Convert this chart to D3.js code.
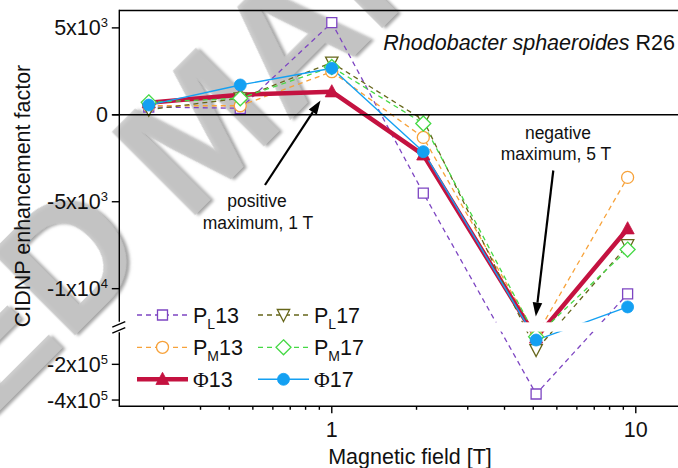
<!DOCTYPE html>
<html>
<head>
<meta charset="utf-8">
<script src="https://cdn.jsdelivr.net/npm/d3@7/dist/d3.min.js"></script>
<style>
  html, body { margin: 0; padding: 0; background: #fff; }
  svg { display: block; font-family: "Liberation Sans", Arial, sans-serif; }
</style>
</head>
<body>
<svg id="chart" width="678" height="468"></svg>
<script>
// Magnetic field (T) at which the photo-CIDNP enhancement was measured
const fields = [0.25, 0.5, 1, 2, 4.7, 9.4];

// Enhancement factors per carbon signal
const PL13  = [450,   375, 5300, -4500, -366000, -10300];
const PM13  = [520,   520, 2480, -1300,  -40000,  -3600];
const Phi13 = [700,  1150, 1330, -2300,  -52000,  -6550];
const PL17  = [300,   950, 3000,  -300, -120000,  -7500];
const PM17  = [720,   950, 2750,  -500,  -45000,  -7750];
const Phi17 = [560,  1715, 2675, -2120,  -64000, -11050];

// Axis ticks
const yTicksUpper = [5000, 0, -5000, -10000];
const yTickLabelsUpper = [["5x10", "3"], ["0", ""], ["-5x10", "3"], ["-1x10", "4"]];
const yTicksLower = [-200000, -400000];
const yTickLabelsLower = [["-2x10", "5"], ["-4x10", "5"]];
const xMajorTicks = [1, 10];
const xMinorTicks = [0.28, 0.37, 0.46, 0.55, 0.64, 0.73, 0.82, 0.91,
                     1.9, 2.8, 3.7, 4.6, 5.5, 6.4, 7.3, 8.2, 9.1];

const W = 678, H = 468;
const plotLeft = 119.3, plotTop = 10.5, plotBottom = 406.3;
const breakTop = 321.7, breakBottom = 332.2;
const FONT = 21.5;

const x = d3.scaleLog().domain([0.2, 15]).range([plotLeft, plotLeft + 304 * Math.log10(15 / 0.2)]);
const yUp = d3.scaleLinear().domain([-11900, 6000]).range([breakTop, plotTop]);
const yLow = d3.scaleLinear().domain([-435000, -20000]).range([plotBottom, breakBottom]);
const y = v => (v >= yUp.domain()[0] ? yUp(v) : yLow(v));

const svg = d3.select("#chart");

// Manuscript stamp behind the figure
const defs = svg.append("defs");
const f = defs.append("filter").attr("id", "emboss").attr("x", "-20%").attr("y", "-20%").attr("width", "140%").attr("height", "140%");
f.append("feDropShadow").attr("dx", 2).attr("dy", 3).attr("stdDeviation", 1.6)
  .attr("flood-color", "#6a6a6a").attr("flood-opacity", 0.7);
const stampSize = 170;
svg.append("g")
  .attr("transform", "translate(194,130) rotate(-45)")
  .append("text")
  .attr("x", -(0.4165 + 5.778) * stampSize).attr("y", 0.358 * stampSize)
  .attr("font-size", stampSize).attr("font-weight", "bold")
  .attr("fill", "#c6c6c6").attr("fill-opacity", 0.85)
  .attr("filter", "url(#emboss)")
  .text("ACCEPTED MANUSCRIPT");

const series = [
  { key: "PL13",  label: ["P", "L", "13"], values: PL13,  color: "#7d45c2", dash: "5,4", width: 1.3, marker: "square",  filled: false },
  { key: "PM13",  label: ["P", "M", "13"], values: PM13,  color: "#f7a23a", dash: "5,4", width: 1.3, marker: "circle",  filled: false },
  { key: "Phi13", label: ["\u03A6", "", "13"], values: Phi13, color: "#c41240", dash: null, width: 4.5, marker: "triangle", filled: true },
  { key: "PL17",  label: ["P", "L", "17"], values: PL17,  color: "#66661a", dash: "5,4", width: 1.3, marker: "triangleDown", filled: false },
  { key: "PM17",  label: ["P", "M", "17"], values: PM17,  color: "#45d945", dash: "5,4", width: 1.3, marker: "diamond", filled: false },
  { key: "Phi17", label: ["\u03A6", "", "17"], values: Phi17, color: "#14a0f2", dash: null, width: 1.4, marker: "circle",  filled: true }
];

function markerPath(type) {
  const p = d3.path();
  if (type === "square") { p.rect(-5, -5, 10, 10); }
  else if (type === "circle") { p.arc(0, 0, 6, 0, 2 * Math.PI); }
  else if (type === "triangle") { p.moveTo(0, -7); p.lineTo(6.6, 5.2); p.lineTo(-6.6, 5.2); p.closePath(); }
  else if (type === "triangleDown") { p.moveTo(0, 6.5); p.lineTo(6.2, -5.5); p.lineTo(-6.2, -5.5); p.closePath(); }
  else if (type === "diamond") { p.moveTo(0, -7.5); p.lineTo(7.5, 0); p.lineTo(0, 7.5); p.lineTo(-7.5, 0); p.closePath(); }
  return p.toString();
}

// Data lines and markers
const plot = svg.append("g");
const line = d3.line().x(d => x(d[0])).y(d => y(d[1]));
series.forEach(s => {
  const pts = fields.map((fv, i) => [fv, s.values[i]]);
  plot.append("path")
    .attr("d", line(pts))
    .attr("fill", "none")
    .attr("stroke", s.color)
    .attr("stroke-width", s.width)
    .attr("stroke-dasharray", s.dash)
    .attr("stroke-linejoin", "round");
});
series.forEach(s => {
  const pts = fields.map((fv, i) => [fv, s.values[i]]);
  plot.append("g").selectAll("path").data(pts).join("path")
    .attr("transform", d => `translate(${x(d[0])},${y(d[1])})`)
    .attr("d", markerPath(s.marker))
    .attr("fill", s.filled ? s.color : "#fff")
    .attr("stroke", s.color)
    .attr("stroke-width", s.filled ? 0.8 : 1.3);
});

// Gap of the broken value axis
svg.append("rect")
  .attr("x", plotLeft + 0.7).attr("y", breakTop + 0.6)
  .attr("width", W - plotLeft).attr("height", breakBottom - breakTop - 1.2)
  .attr("fill", "#fff");

// Frame and zero line
const axis = svg.append("g").attr("stroke", "#000").attr("stroke-width", 1.4).attr("fill", "none");
axis.append("line").attr("x1", plotLeft).attr("x2", W).attr("y1", plotTop).attr("y2", plotTop);
axis.append("line").attr("x1", plotLeft).attr("x2", W).attr("y1", plotBottom).attr("y2", plotBottom);
axis.append("line").attr("x1", plotLeft).attr("x2", plotLeft).attr("y1", plotTop - 0.7).attr("y2", breakTop);
axis.append("line").attr("x1", plotLeft).attr("x2", plotLeft).attr("y1", breakBottom).attr("y2", plotBottom + 0.7);
axis.append("line").attr("x1", plotLeft - 7).attr("x2", W).attr("y1", yUp(0)).attr("y2", yUp(0));
// break marks
axis.append("line").attr("x1", plotLeft - 7).attr("y1", breakTop + 5.5).attr("x2", plotLeft + 6).attr("y2", breakTop);
axis.append("line").attr("x1", plotLeft - 7).attr("y1", breakBottom + 1).attr("x2", plotLeft + 6).attr("y2", breakBottom - 4.5);

// y ticks and labels
function yTick(v, pos, lab) {
  axis.append("line").attr("x1", plotLeft - 7.5).attr("x2", plotLeft).attr("y1", pos).attr("y2", pos);
  const t = svg.append("text")
    .attr("x", 108).attr("y", pos + 7.6)
    .attr("text-anchor", "end")
    .attr("font-size", FONT).attr("fill", "#111");
  t.append("tspan").text(lab[0]);
  if (lab[1]) t.append("tspan").attr("font-size", 13).attr("dy", -8).text(lab[1]);
}
yTicksUpper.forEach((v, i) => yTick(v, yUp(v), yTickLabelsUpper[i]));
yTicksLower.forEach((v, i) => yTick(v, yLow(v), yTickLabelsLower[i]));

// x ticks and labels
xMajorTicks.forEach(v => {
  axis.append("line").attr("x1", x(v)).attr("x2", x(v)).attr("y1", plotBottom).attr("y2", plotBottom + 7);
  svg.append("text").attr("x", x(v)).attr("y", 436.5).attr("text-anchor", "middle")
    .attr("font-size", FONT).attr("fill", "#111").text(v);
});
xMinorTicks.forEach(v => {
  axis.append("line").attr("x1", x(v)).attr("x2", x(v)).attr("y1", plotBottom).attr("y2", plotBottom + 3.5);
});

// Axis titles
svg.append("text").attr("x", 410).attr("y", 463.5).attr("text-anchor", "middle")
  .attr("font-size", FONT).attr("fill", "#111").text("Magnetic field [T]");
svg.append("text").attr("transform", "translate(30,196) rotate(-90)").attr("text-anchor", "middle")
  .attr("font-size", FONT).attr("fill", "#111").text("CIDNP enhancement factor");

// Sample name
const title = svg.append("text").attr("x", 675).attr("y", 50).attr("text-anchor", "end")
  .attr("font-size", FONT).attr("fill", "#111");
title.append("tspan").attr("font-style", "italic").text("Rhodobacter sphaeroides");
title.append("tspan").text(" R26");

// Annotations with arrows
const notes = svg.append("g").attr("font-size", 17.5).attr("fill", "#111").attr("text-anchor", "middle");
notes.append("text").attr("x", 257).attr("y", 206.5).text("positive");
notes.append("text").attr("x", 258).attr("y", 228.5).text("maximum, 1 T");
notes.append("text").attr("x", 558).attr("y", 138.5).text("negative");
notes.append("text").attr("x", 556).attr("y", 160).text("maximum, 5 T");

function arrow(x1, y1, x2, y2) {
  const a = Math.atan2(y2 - y1, x2 - x1), L = 14, w = 4.8;
  const bx = x2 - L * Math.cos(a), by = y2 - L * Math.sin(a);
  svg.append("line").attr("x1", x1).attr("y1", y1).attr("x2", bx).attr("y2", by)
    .attr("stroke", "#000").attr("stroke-width", 2.2);
  svg.append("path")
    .attr("d", `M${x2},${y2}L${bx - w * Math.sin(a)},${by + w * Math.cos(a)}L${bx + w * Math.sin(a)},${by - w * Math.cos(a)}Z`)
    .attr("fill", "#000");
}
arrow(265, 185, 320.5, 100.5);
arrow(553.3, 170.5, 535.8, 316.5);

// Legend
const legCols = [137, 258];
const legRows = [315, 347.3, 379.3];
const legOrder = [["PL13", "PL17"], ["PM13", "PM17"], ["Phi13", "Phi17"]];
const leg = svg.append("g");
legOrder.forEach((row, r) => row.forEach((k, c) => {
  const s = series.find(d => d.key === k);
  const x0 = legCols[c], yy = legRows[r];
  leg.append("line").attr("x1", x0).attr("x2", x0 + 51).attr("y1", yy).attr("y2", yy)
    .attr("stroke", s.color).attr("stroke-width", s.width).attr("stroke-dasharray", s.dash);
  leg.append("path").attr("transform", `translate(${x0 + 25.5},${yy})`).attr("d", markerPath(s.marker))
    .attr("fill", s.filled ? s.color : "#fff").attr("stroke", s.color).attr("stroke-width", s.filled ? 0.8 : 1.3);
  const t = leg.append("text").attr("x", x0 + 56).attr("y", yy + 7.5).attr("font-size", FONT).attr("fill", "#111");
  if (s.label[0] === "\u03A6") {
    t.append("tspan").attr("font-family", "'Liberation Serif', 'Times New Roman', serif").text(s.label[0]);
    t.append("tspan").text(s.label[2]);
  } else {
    t.append("tspan").text(s.label[0]);
    t.append("tspan").attr("font-size", 14).attr("dy", 6).text(s.label[1]);
    t.append("tspan").attr("dy", -6).text(s.label[2]);
  }
}));
</script>
</body>
</html>
